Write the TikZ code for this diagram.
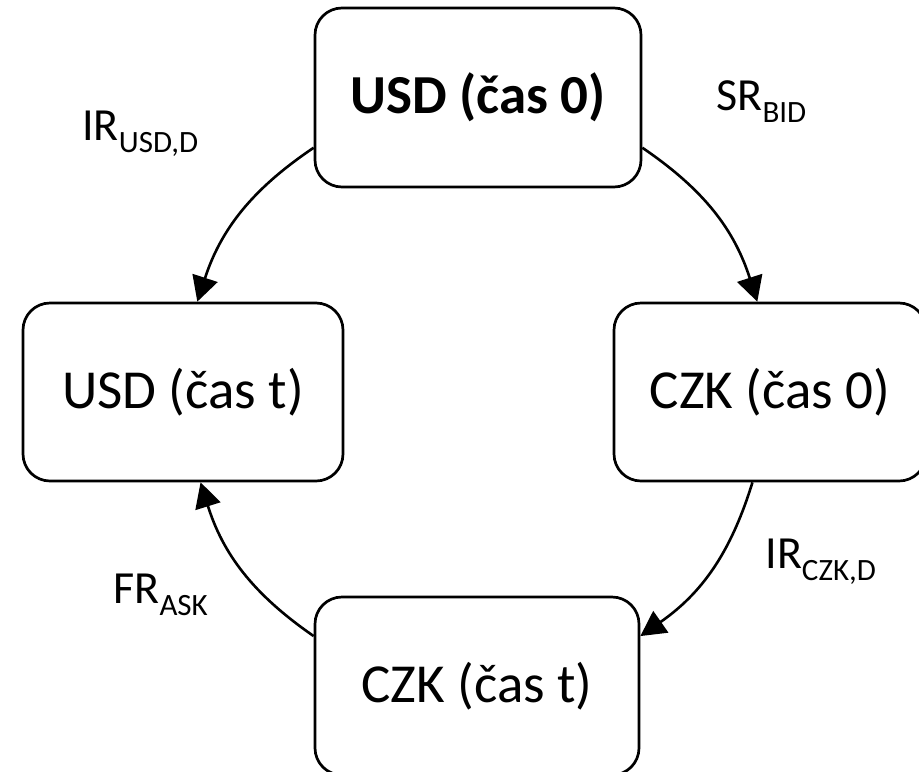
\documentclass[tikz,border=0pt]{standalone}
\usepackage{fontspec}
\setmainfont{Carlito}
\usetikzlibrary{arrows.meta}
% lowered, smaller text for rate subscripts
\newcommand{\lowsub}[1]{\raisebox{-6pt}{\fontsize{15.5}{18}\selectfont #1}}

\begin{document}
\begin{tikzpicture}[x=0.5pt,y=0.5pt,
  state/.style={draw, line width=1.35pt, rounded corners=13.5pt, inner sep=0pt,
    font=\fontsize{27.5}{32}\selectfont},
  flow/.style={line width=1.3pt, -{Triangle[length=12.5pt,width=13pt]}},
  rate/.style={anchor=base west, inner sep=0pt, font=\fontsize{23}{28}\selectfont}]
\useasboundingbox (0,0) rectangle (919,-771);

% currency/time states
\node[state, minimum width=163pt, minimum height=89.5pt,
  font=\fontsize{27.5}{32}\selectfont\bfseries] (usd0) at (478,-97.5) {USD (čas 0)};
\node[state, minimum width=160pt, minimum height=89pt] (usdt) at (183,-392) {USD (čas t)};
\node[state, minimum width=156pt, minimum height=89pt] (czk0) at (770,-392) {CZK (čas 0)};
\node[state, minimum width=162pt, minimum height=89pt] (czkt) at (477,-686) {CZK (čas t)};

% conversions
\draw[flow] (usd0.197) to[bend right=19] (usdt.81);
\draw[flow] (usd0.343) to[bend left=19] (czk0.98);
\draw[flow] (czk0.259) to[bend left=19] (czkt.17);
\draw[flow] (czkt.163) to[bend left=19] (usdt.281);

% rates
\node[rate] (irusd) at (82,-140) {IR\lowsub{USD,D}};
\node[rate] (srbid) at (716,-110) {SR\lowsub{BID}};
\node[rate] (irczk) at (765,-568) {IR\lowsub{CZK,D}};
\node[rate] (frask) at (113,-603) {FR\lowsub{ASK}};
\end{tikzpicture}
\end{document}
